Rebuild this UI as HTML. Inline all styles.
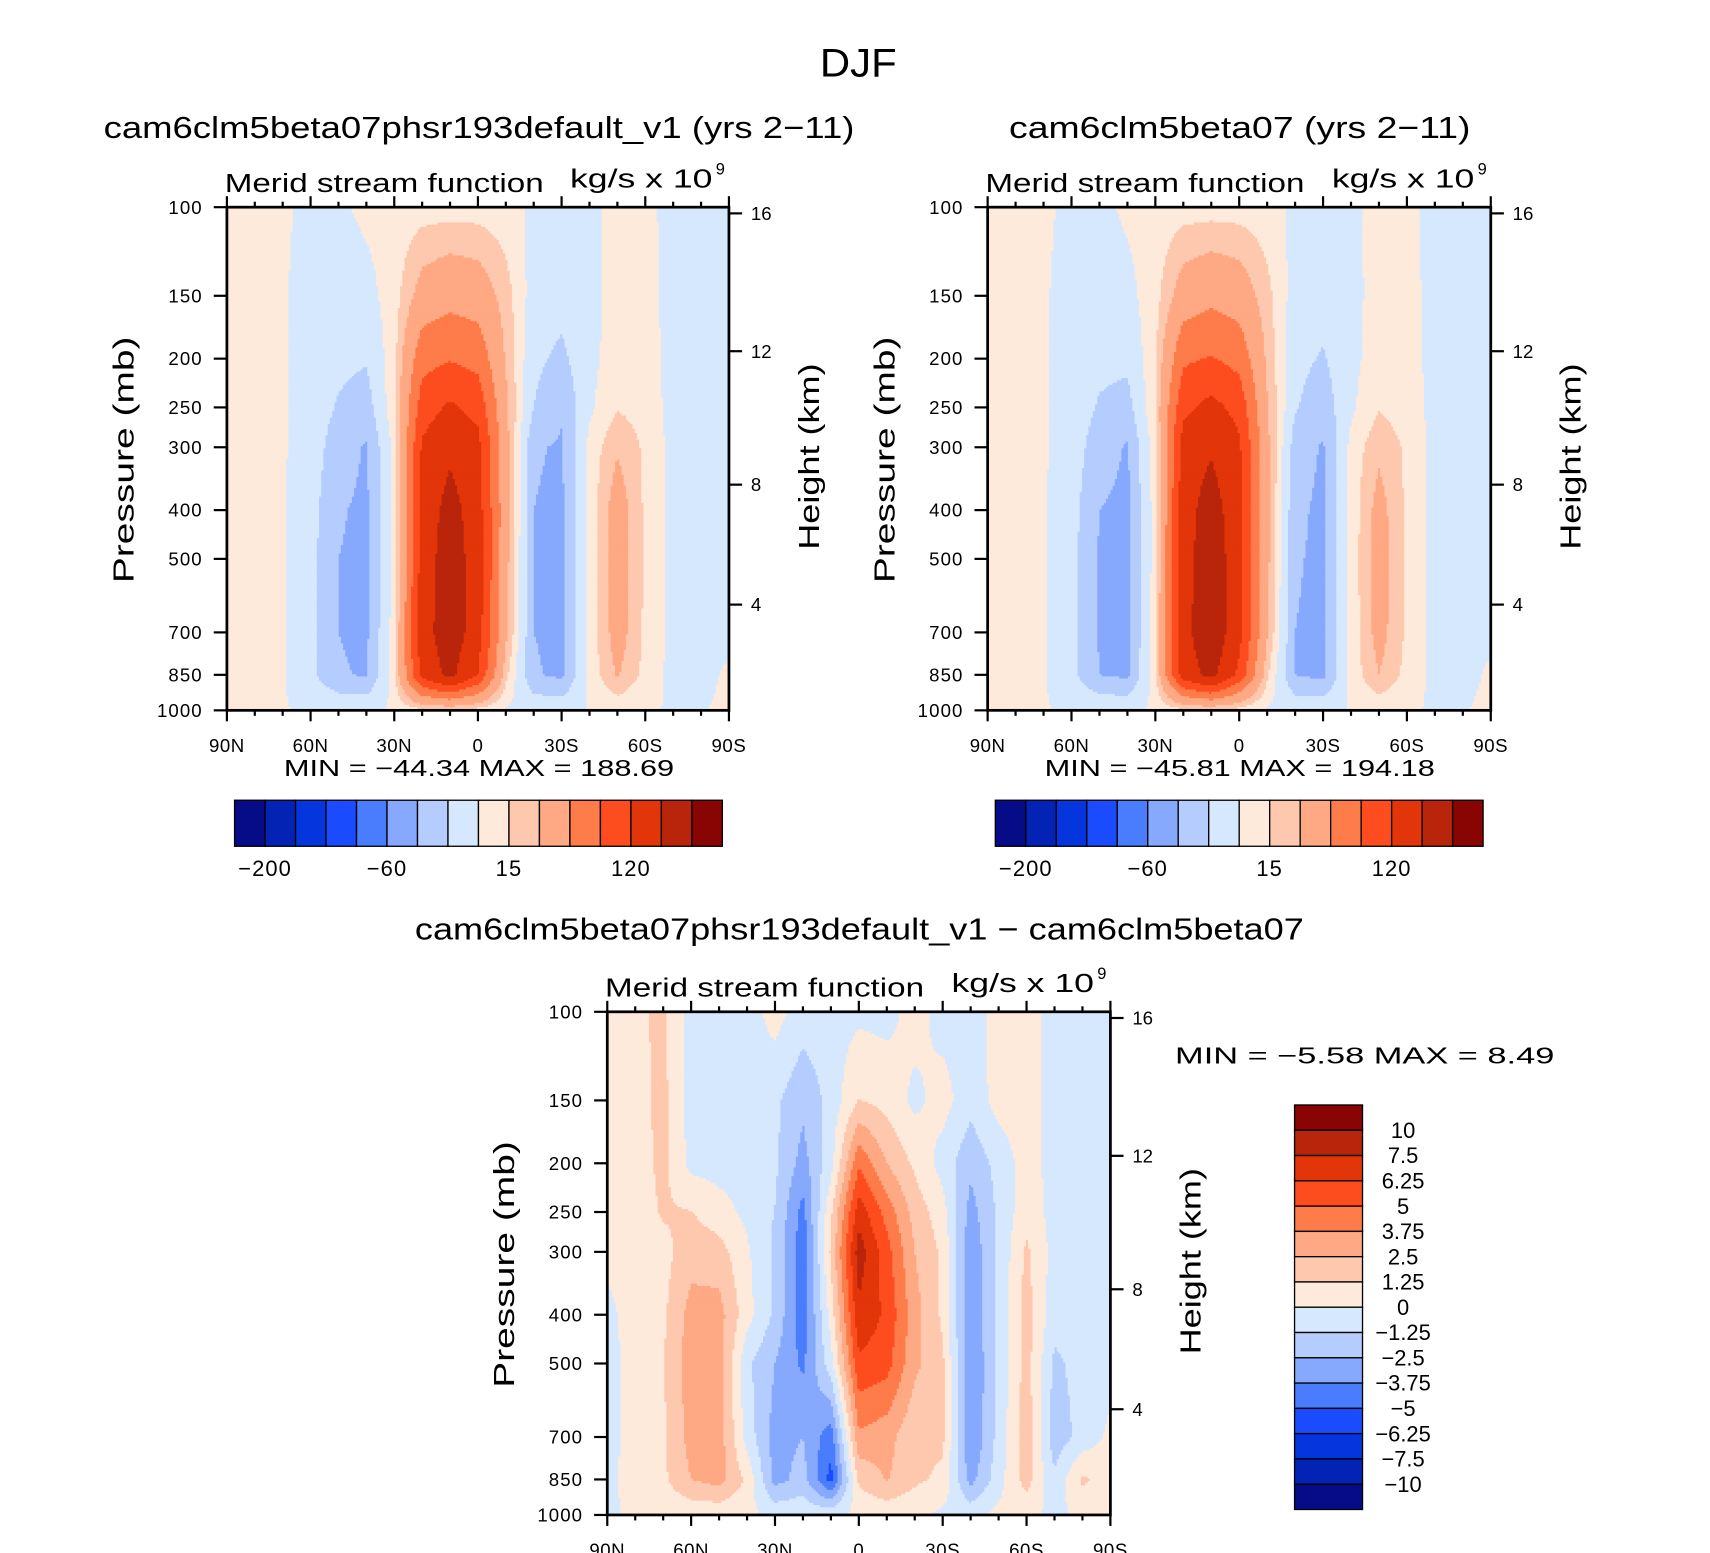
<!DOCTYPE html>
<html><head><meta charset="utf-8">
<style>
html,body{margin:0;padding:0;background:#fff;}
svg{display:block;font-family:"Liberation Sans",sans-serif;}
</style></head>
<body>
<svg id="fig" width="1710" height="1553" viewBox="0 0 1560 1416.7" preserveAspectRatio="none" xmlns="http://www.w3.org/2000/svg">
<rect x="0" y="0" width="1560" height="1417" fill="#fff"/>
<text x="783" y="70" font-size="36" text-anchor="middle" textLength="70" lengthAdjust="spacingAndGlyphs">DJF</text>
<g id="p1"></g>
<g id="p2"></g>
<g id="p3"></g>
</svg>
<script>
const lats=[90,80,70,60,50,40,30,20,10,0,-10,-20,-30,-40,-50,-60,-70,-80,-90];
const plevs=[100,150,200,250,300,400,500,700,850,1000];
const latLabels=['90N','60N','30N','0','30S','60S','90S'];
const latTicks=[90,60,30,0,-30,-60,-90];
const heightTicks=[4,8,12,16];
const absLevels=[-200,-160,-120,-80,-60,-40,-20,0,15,30,60,90,120,160,200];
const diffLevels=[-10,-7.5,-6.25,-5,-3.75,-2.5,-1.25,0,1.25,2.5,3.75,5,6.25,7.5,10];
const absBarLabels=['\u2212200','\u221260','15','120'];
const absBarLabelIdx=[1,5,9,13];
const diffBarLabels=['10','7.5','6.25','5','3.75','2.5','1.25','0','\u22121.25','\u22122.5','\u22123.75','\u22125','\u22126.25','\u22127.5','\u221210'];
const palette=['#060b87','#0323b4','#0535dc','#1a4cfd','#4a7dfd','#86a9fd','#b4cdfe','#d6e8fe','#feeadb','#fec8ae','#fea983','#fe7b4a','#fd4d1e','#e23509','#b9250a','#880503'];

const testValues=[
[4,4,3,-5,-3,4,6,8,8,8,6,-3,-6,-3,4,3,-4,-3,-2],
[4,4,2,-8,-12,-6,8,40,50,45,22,-8,-12,-5,6,5,-5,-4,-3],
[4,4,2,-8,-15,-18,10,80,88,80,28,-15,-25,-5,8,6,-5,-4,-3],
[4,4,2,-9,-22,-30,12,105,125,110,35,-20,-38,-3,14,8,-5,-4,-3],
[4,4,2,-10,-30,-42,5,125,150,130,38,-38,-42,5,28,12,-5,-4,-3],
[4,4,2,-12,-38,-44,5,130,178,135,40,-40,-44,5,42,12,-5,-4,-3],
[4,4,2,-14,-40,-44,5,135,186,138,38,-40,-44,5,42,12,-5,-4,-3],
[4,4,2,-15,-40,-44,8,140,188,135,35,-40,-44,5,40,12,-5,-4,-3],
[4,4,2,-15,-38,-42,10,132,170,120,20,-38,-44,5,32,10,-5,-4,2],
[2,2,1,-2,-3,-3,2,10,12,8,-2,-5,-5,1,3,1,-1,-1,3]];

const ctrlValues=[
[4,3,3,-4,-4,3,6,8,8,8,6,-3,-6,-3,4,3,-4,-3,-2],
[4,3,2,-7,-12,-5,9,42,52,45,20,-8,-12,-5,6,5,-5,-4,-3],
[4,3,2,-8,-15,-15,12,85,92,80,26,-14,-22,-5,8,6,-5,-4,-3],
[4,3,2,-9,-22,-28,15,112,130,110,32,-18,-32,-3,14,8,-5,-4,-3],
[4,3,2,-10,-30,-42,10,135,155,125,36,-30,-42,5,26,12,-5,-4,-3],
[4,3,2,-12,-40,-45,8,140,182,130,38,-36,-44,5,38,12,-5,-4,-3],
[4,3,2,-14,-42,-45,8,142,190,132,36,-38,-44,5,40,12,-5,-4,-3],
[4,3,2,-15,-42,-46,10,145,194,130,32,-40,-45,5,38,12,-5,-4,-3],
[4,3,2,-15,-40,-44,12,138,172,112,18,-40,-45,5,30,10,-5,-4,2],
[2,2,1,-2,-3,-3,2,10,12,8,-2,-5,-5,1,3,1,-1,-1,3]];

const diffValues=[
[1.0,1.0,1.5,-0.5,-0.6,-0.6,0.5,-0.6,-0.5,-0.3,-0.4,0.5,-0.5,-0.5,0.4,0.5,-0.5,-0.5,-0.5],
[0.8,0.8,1.6,-0.5,-0.6,-0.5,-1.0,-2.2,-0.8,1.3,0.8,-0.3,0.5,-0.8,0.5,0.5,-0.5,-0.5,-0.5],
[0.5,0.6,1.6,-0.4,-0.5,-0.5,-1.0,-3.0,-0.5,4.8,2.5,1.0,-0.5,-2.2,-0.8,0.6,-0.5,-0.5,-0.5],
[0.3,0.5,1.4,1.3,0.5,-0.3,-1.3,-4.2,1.0,7.0,4.5,2.0,0.5,-3.0,-1.0,0.8,-0.5,-0.5,-0.5],
[0.3,0.5,0.8,2.0,1.8,0.2,-1.5,-4.6,1.5,8.2,5.5,2.5,1.0,-3.5,-1.0,1.5,-0.5,-0.5,-0.5],
[-0.3,0.5,1.0,3.0,3.0,0.5,-1.5,-4.6,0.5,7.2,6.0,3.0,1.0,-3.5,-1.0,1.8,-0.8,-0.5,-0.5],
[-0.3,0.3,1.2,3.2,3.2,-1.0,-2.5,-4.0,-0.5,6.0,5.5,2.8,1.5,-3.8,-1.0,1.8,-1.5,-0.8,-0.5],
[-0.3,0.3,1.0,3.0,3.2,-0.5,-3.0,-2.5,-4.5,3.5,3.0,1.5,1.5,-3.8,-0.8,2.0,-2.0,-0.8,0.3],
[-0.3,0.5,1.0,2.5,3.0,1.0,-3.0,-2.0,-5.5,1.5,2.6,1.5,1.0,-3.0,-0.5,1.8,-1.0,1.5,0.5],
[-0.3,0.3,0.3,0.3,0.3,0.3,-0.3,-0.3,-0.3,0.3,0.3,0.3,-0.3,-0.3,0.3,0.3,-0.3,0.3,0.3]];

const NS='http://www.w3.org/2000/svg';
function mk(tag,attrs,parent,txt){const e=document.createElementNS(NS,tag);for(const k in attrs)e.setAttribute(k,attrs[k]);if(txt!==undefined)e.textContent=txt;parent.appendChild(e);return e;}
function stdP(z){return z<=11?1013.25*Math.pow(1-z*6.5/288.15,5.2559):226.32*Math.exp(-(z-11)/6.3416);}
function levelIndex(v,levels){let k=0;while(k<levels.length&&v>=levels[k])k++;return k;}

function drawPanel(g,o){
  const {x0,y0,w,h,grid,levels}=o;
  const xOf=lat=>x0+w*(90-lat)/180;
  const yOf=p=>y0+h*Math.log10(p/100);
  const rowY=plevs.map(yOf), colX=lats.map(xOf);
  const field=mk('g',{},g);
  
  
  const step=2;
  for(let py=y0;py<y0+h;py+=step){
    const yc=Math.min(py+step/2,y0+h);
    let j=0;while(j<plevs.length-2&&yc>rowY[j+1])j++;
    const fy=Math.min(1,Math.max(0,(yc-rowY[j])/(rowY[j+1]-rowY[j])));
    const hh=Math.min(step+0.6,y0+h-py);
    let runStart=x0,runCol=-1;
    for(let px=x0;px<x0+w+step;px+=step){
      let c=-2;
      if(px<x0+w){
        const xc=px+step/2;
        let i=0;while(i<lats.length-2&&xc>colX[i+1])i++;
        const fx=Math.min(1,Math.max(0,(xc-colX[i])/(colX[i+1]-colX[i])));
        const v=(grid[j][i]*(1-fx)+grid[j][i+1]*fx)*(1-fy)+(grid[j+1][i]*(1-fx)+grid[j+1][i+1]*fx)*fy;
        c=levelIndex(v,levels);
      }
      if(c!==runCol){
        if(runCol>=0){
          const end=Math.min(px+0.6,x0+w);
          const r=mk('rect',{x:runStart,y:py,width:end-runStart,height:hh,fill:palette[runCol]},field);
          
          
        }
        runStart=px;runCol=c;
      }
    }
  }
  const fr=mk('rect',{x:x0,y:y0,width:w,height:h,fill:'none',stroke:'#000','stroke-width':2.5},g);
  
  
  for(let lat=90;lat>=-90;lat-=10){
    const x=xOf(lat),major=(lat%30===0);
    mk('line',{x1:x,y1:y0+h,x2:x,y2:y0+h+(major?10:5),stroke:'#000','stroke-width':2},g);
    mk('line',{x1:x,y1:y0,x2:x,y2:y0-(major?10:5),stroke:'#000','stroke-width':2},g);
  }
  latTicks.forEach((lat,k)=>{
    const t=mk('text',{x:xOf(lat),y:y0+h+38,'font-size':17,'text-anchor':'middle','letter-spacing':0.5},g,latLabels[k]);
    
    
  });
  plevs.forEach(p=>{
    const y=yOf(p);
    mk('line',{x1:x0-12,y1:y,x2:x0,y2:y,stroke:'#000','stroke-width':2},g);
    const t=mk('text',{x:x0-22,y:y+6,'font-size':17,'text-anchor':'end','letter-spacing':1},g,String(p));
    
    
  });
  heightTicks.forEach(z=>{
    const y=yOf(stdP(z));
    mk('line',{x1:x0+w,y1:y,x2:x0+w+12,y2:y,stroke:'#000','stroke-width':2},g);
    const t=mk('text',{x:x0+w+20,y:y+6,'font-size':17},g,String(z));
    
    
  });
  const yl=mk('text',{x:0,y:0,'font-size':26,'text-anchor':'middle',textLength:225,lengthAdjust:'spacingAndGlyphs',transform:`translate(${x0-85},${y0+h/2+1}) rotate(-90)`},g,'Pressure  (mb)');
  
  
  const hl=mk('text',{x:0,y:0,'font-size':26,'text-anchor':'middle',textLength:170,lengthAdjust:'spacingAndGlyphs',transform:`translate(${x0+w+82},${y0+h/2-2}) rotate(-90)`},g,'Height  (km)');
  
  
  const lt=mk('text',{x:x0-2,y:y0-14,'font-size':24,textLength:291,lengthAdjust:'spacingAndGlyphs'},g,'Merid  stream  function');
  
  
  const rt=mk('text',{x:x0+w-145,y:y0-18,'font-size':24,textLength:130,lengthAdjust:'spacingAndGlyphs'},g,'kg/s  x  10');
  
  
  mk('text',{x:x0+w-12,y:y0-30,'font-size':15},g,'9');
  const tt=mk('text',{x:o.titleX,y:o.titleY,'font-size':28,'text-anchor':'middle',textLength:o.titleLen,lengthAdjust:'spacingAndGlyphs'},g,o.title);
  
  
}

function hBar(g,x0,y0,w,h,labels,idx){
  const bw=w/16;
  for(let k=0;k<16;k++){
    const r=mk('rect',{x:x0+k*bw,y:y0,width:bw,height:h,fill:palette[k],stroke:'#000','stroke-width':1.2},g);
    
    
  }
  labels.forEach((s,k)=>{
    const t=mk('text',{x:x0+idx[k]*bw,y:y0+h+27,'font-size':20,'text-anchor':'middle','letter-spacing':1},g,s);
    
    
  });
}
function vBar(g,x0,y0,w,h,labels){
  const bh=h/16;
  for(let k=0;k<16;k++){
    const r=mk('rect',{x:x0,y:y0+k*bh,width:w,height:bh,fill:palette[15-k],stroke:'#000','stroke-width':1.2},g);
    
    
  }
  labels.forEach((s,k)=>{
    const t=mk('text',{x:x0+w+37,y:y0+(k+1)*bh+7,'font-size':20,'text-anchor':'middle'},g,s);
    
    
  });
}
function minmax(g,x,y,s,anchor,len){
  const t=mk('text',{x:x,y:y,'font-size':21,'text-anchor':anchor,'xml:space':'preserve',textLength:len,lengthAdjust:'spacingAndGlyphs'},g,s);
  
  
}

const g1=document.getElementById('p1'),g2=document.getElementById('p2'),g3=document.getElementById('p3');
drawPanel(g1,{x0:207,y0:189,w:458,h:459,grid:testValues,levels:absLevels,title:'cam6clm5beta07phsr193default_v1 (yrs 2\u221211)',titleX:437,titleY:126,titleLen:685});
minmax(g1,437,708,'MIN  =  \u221244.34    MAX  =  188.69','middle',356);
hBar(g1,214,730,445,42,absBarLabels,absBarLabelIdx);
drawPanel(g2,{x0:901,y0:189,w:459,h:459,grid:ctrlValues,levels:absLevels,title:'cam6clm5beta07 (yrs 2\u221211)',titleX:1131,titleY:126,titleLen:421});
minmax(g2,1131,708,'MIN  =  \u221245.81    MAX  =  194.18','middle',356);
hBar(g2,908,730,445,42,absBarLabels,absBarLabelIdx);
drawPanel(g3,{x0:554,y0:923,w:459,h:459,grid:diffValues,levels:diffLevels,title:'cam6clm5beta07phsr193default_v1 \u2212 cam6clm5beta07',titleX:784,titleY:857,titleLen:811});
minmax(g3,1072,970,'MIN  =    \u22125.58    MAX  =     8.49','start',346);
vBar(g3,1181,1008,62,369,diffBarLabels);
</script>
</body></html>
